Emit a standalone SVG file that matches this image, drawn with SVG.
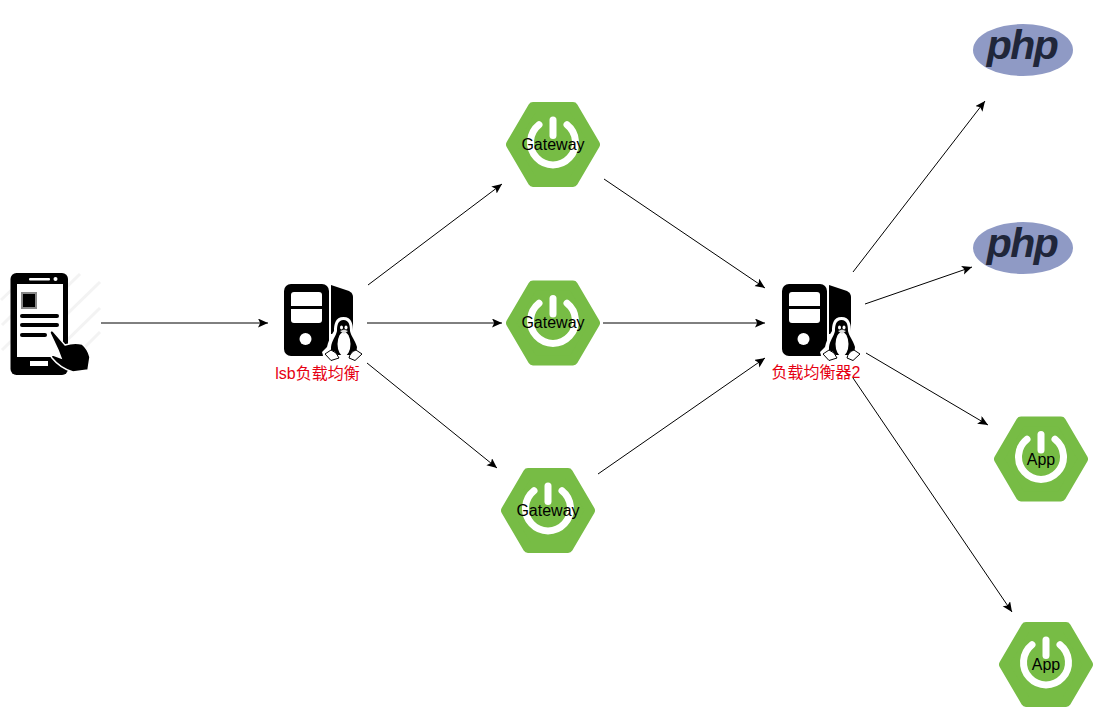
<svg xmlns="http://www.w3.org/2000/svg" width="1096" height="714" viewBox="0 0 1096 714">
<style>
text{font-family:"Liberation Sans","Noto Sans CJK SC",sans-serif;font-size:16px;text-anchor:middle}
.lbl{fill:#000}
.red{fill:#e60012}
.php{font-family:"Liberation Sans",sans-serif;font-weight:700;font-style:italic;font-size:41px;fill:#20263a;letter-spacing:-1.500px}
.conn line{stroke:#000;stroke-width:1;fill:none;marker-end:url(#arr)}
.hatch line{stroke:#f3f3f3;stroke-width:3}
</style>
<defs>
<marker id="arr" markerUnits="userSpaceOnUse" markerWidth="11" markerHeight="10" refX="10" refY="4.500" orient="auto">
<path d="M0 0L10 4.500L0 9L2.200 4.500Z" fill="#000"/>
</marker>
<g id="spring">
<path d="M-20-37.500H20L42 0L20 37.500H-20L-42 0Z" fill="#77bc45" stroke="#77bc45" stroke-width="10" stroke-linejoin="round"/>
<path d="M-14-19.700A22.500 22.500 0 1 0 14-19.700" fill="none" stroke="#fff" stroke-width="7" stroke-linecap="round"/>
<path d="M0-24.500V-9" fill="none" stroke="#fff" stroke-width="7" stroke-linecap="round"/>
</g>
<g id="server">
<rect x="0" y="0" width="45" height="72" rx="7" fill="#000"/>
<rect x="7" y="8" width="31" height="31" rx="3" fill="#fff"/>
<rect x="7" y="22" width="31" height="3" fill="#000"/>
<circle cx="21.500" cy="55" r="6" fill="#fff"/>
<path d="M47 1L65 7Q69 9 69 13V50H47Z" fill="#000"/>
<path d="M59.500 33C51 33 50 41 50 47C46 53 44 58 43 63L38 68L40 75L54 78H66L78 75L78 68L75 63C74 57 71 52 69 47C69 41 68 33 59.500 33Z" fill="#fff"/>
<path d="M59.500 36C54 36 53 41 53 47C52 52 48 56 47 63L47 71H72L73 63C71 56 67 52 66 47C66 41 65 36 59.500 36Z" fill="#000"/>
<ellipse cx="60" cy="60" rx="6.500" ry="12" fill="#fff"/>
<ellipse cx="57.500" cy="43.500" rx="1.500" ry="2" fill="#fff"/>
<ellipse cx="62" cy="43.500" rx="1.500" ry="2" fill="#fff"/>
<path d="M56 47L60 45.500L64 47L60 50Z" fill="#ddd"/>
<path d="M41 70L47 66Q53 68 55 74L47 76.500Z" fill="#fff" stroke="#000" stroke-width="1"/>
<path d="M65 74Q66 68 72 66L78 70L71 76.500Z" fill="#fff" stroke="#000" stroke-width="1"/>
</g>
<g id="phpLogo">
<ellipse cx="0" cy="0" rx="50" ry="26" fill="#8f9ac5"/>
<text class="php" x="-1" y="9">php</text>
</g>
</defs>

<g id="phone">
<g class="hatch">
<line x1="1" y1="300" x2="26" y2="276"/><line x1="2" y1="325" x2="54" y2="274"/><line x1="2" y1="350" x2="80" y2="274"/><line x1="30" y1="350" x2="100" y2="282"/><line x1="55" y1="352" x2="100" y2="308"/><line x1="78" y1="354" x2="100" y2="332"/>
</g>
<rect x="10.500" y="273" width="57.500" height="102" rx="6" fill="#000"/>
<rect x="17" y="284" width="46" height="73" fill="#fff"/>
<rect x="29" y="278" width="21" height="2.500" rx="1" fill="#fff"/>
<circle cx="55.500" cy="279" r="2" fill="#fff"/>
<rect x="30" y="361" width="18" height="5" fill="#fff"/>
<rect x="21" y="292" width="16" height="17" fill="#888"/>
<rect x="23" y="294" width="12" height="13" fill="#000"/>
<rect x="20" y="314" width="39" height="4" rx="2" fill="#000"/>
<rect x="20" y="323" width="39" height="4" rx="2" fill="#000"/>
<rect x="20" y="333" width="27" height="4" rx="2" fill="#000"/>
<path d="M50 333Q50 330 53 331L65 345Q74 342 82 344Q88 349 90 357L88 370L73 372Q60 368 52 358Q50 356 53 355L61 358L58 350Z" fill="#000" stroke="#fff" stroke-width="1.500"/>
</g>

<g id="lsb">
<use href="#server" x="284" y="284"/>
<text class="red" x="317.500" y="379">lsb负载均衡</text>
</g>

<g id="gateway1"><use href="#spring" x="553" y="144.500"/><text class="lbl" x="553" y="149.500">Gateway</text></g>
<g id="gateway2"><use href="#spring" x="553" y="323"/><text class="lbl" x="553" y="328">Gateway</text></g>
<g id="gateway3"><use href="#spring" x="548" y="510.500"/><text class="lbl" x="548" y="516">Gateway</text></g>

<g id="lb2">
<use href="#server" x="782" y="284"/>
<text class="red" x="816" y="378">负载均衡器2</text>
</g>

<g id="php1"><use href="#phpLogo" x="1023" y="50"/></g>
<g id="php2"><use href="#phpLogo" x="1023" y="248"/></g>
<g id="app1"><use href="#spring" x="1041" y="459"/><text class="lbl" x="1041" y="464.500">App</text></g>
<g id="app2"><use href="#spring" x="1046" y="664.500"/><text class="lbl" x="1046" y="670">App</text></g>

<g id="connectors" class="conn">
<line x1="101" y1="323" x2="268" y2="323"/>
<line x1="368" y1="285" x2="502" y2="184"/>
<line x1="367" y1="323" x2="502" y2="323"/>
<line x1="367" y1="363" x2="497" y2="468"/>
<line x1="604" y1="179" x2="765" y2="288"/>
<line x1="603" y1="323" x2="765" y2="323"/>
<line x1="598" y1="474" x2="765" y2="358"/>
<line x1="853" y1="272" x2="985" y2="101"/>
<line x1="865" y1="304" x2="972" y2="267"/>
<line x1="866" y1="353" x2="988" y2="425"/>
<line x1="853" y1="378" x2="1012" y2="612"/>
</g>
</svg>
